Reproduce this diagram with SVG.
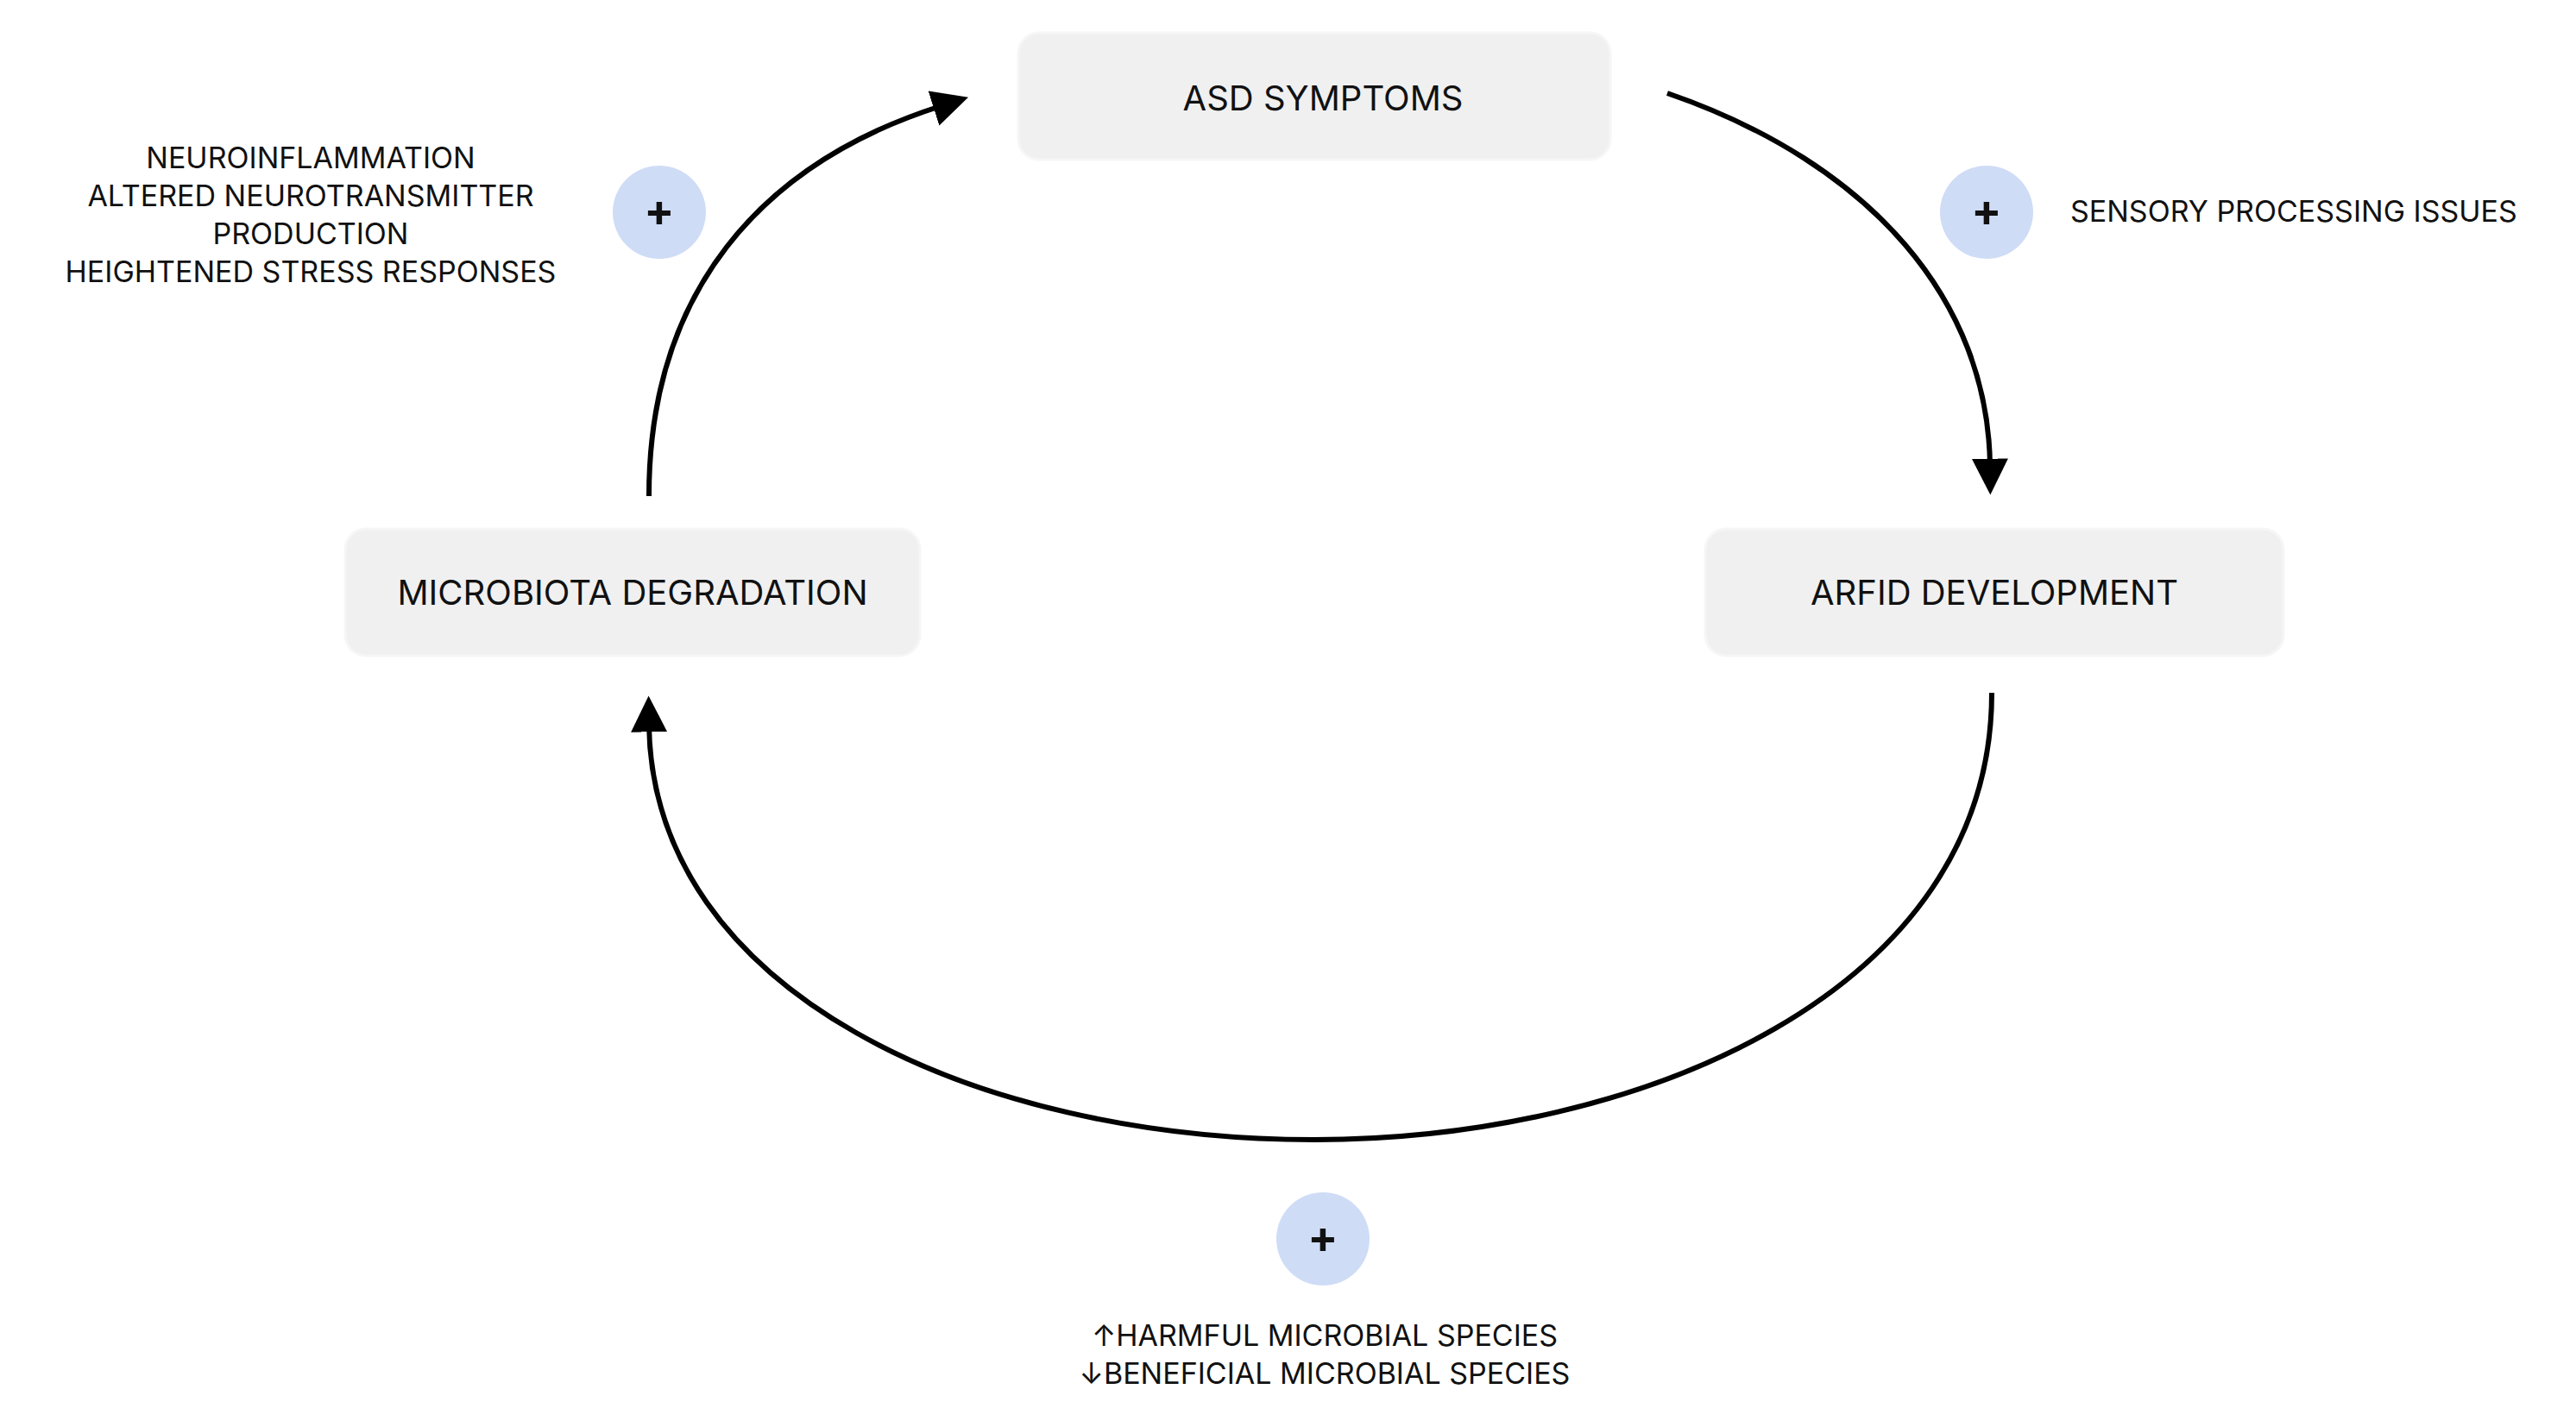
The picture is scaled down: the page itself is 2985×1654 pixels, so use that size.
<svg xmlns="http://www.w3.org/2000/svg" width="2985" height="1654" viewBox="0 0 2985 1654">
<defs>
<style>
.box{fill:#f0f0f0;stroke:#f6f6f6;stroke-width:3}
.t{font-family:Inter,"Liberation Sans",sans-serif;fill:#111;text-anchor:middle}
.node{font-size:40px}
.lab{font-size:34px}
.pl{fill:#cfdcf6}
.c{fill:none;stroke:#000;stroke-width:6}
</style>
<marker id="ah" viewBox="0 0 10 10" refX="2" refY="5" markerWidth="7" markerHeight="7" markerUnits="strokeWidth" orient="auto"><path d="M0,0 L10,5 L0,10 z" fill="#000"/></marker>
</defs>
<rect width="2985" height="1654" fill="#fff"/>
<g id="asd"><rect class="box" x="1180" y="38" width="686" height="147" rx="24"/><text class="t node" x="1533" y="128">ASD SYMPTOMS</text></g>
<g id="micro"><rect class="box" x="400" y="613" width="666" height="147" rx="24"/><text class="t node" x="733" y="701">MICROBIOTA DEGRADATION</text></g>
<g id="arfid"><rect class="box" x="1976" y="613" width="670" height="147" rx="24"/><text class="t node" x="2311" y="701">ARFID DEVELOPMENT</text></g>
<g id="connectors">
<path class="c" d="M752,575 C752,340 880,190 1090,123" marker-end="url(#ah)"/>
<path class="c" d="M1932,108 C2170,190 2304,350 2306,540" marker-end="url(#ah)"/>
<path class="c" d="M2308,803 C2308,1150 1900,1321 1523,1321 C1130,1321 756,1150 752,840" marker-end="url(#ah)"/>
</g>
<g id="plus1"><ellipse class="pl" cx="764" cy="246" rx="54" ry="54"/><text class="t" x="764" y="262" font-size="52" font-weight="bold">+</text></g>
<g id="plus2"><ellipse class="pl" cx="2302" cy="246" rx="54" ry="54"/><text class="t" x="2302" y="262" font-size="52" font-weight="bold">+</text></g>
<g id="plus3"><ellipse class="pl" cx="1533" cy="1436" rx="54" ry="54"/><text class="t" x="1533" y="1452" font-size="52" font-weight="bold">+</text></g>
<g id="label1" class="t lab">
<text x="360" y="195">NEUROINFLAMMATION</text>
<text x="360" y="239">ALTERED NEUROTRANSMITTER</text>
<text x="360" y="283">PRODUCTION</text>
<text x="360" y="327">HEIGHTENED STRESS RESPONSES</text>
</g>
<g id="label2"><text class="t lab" x="2399" y="257" text-anchor="start" style="text-anchor:start">SENSORY PROCESSING ISSUES</text></g>
<g id="label3" class="t lab">
<text x="1535" y="1560">↑HARMFUL MICROBIAL SPECIES</text>
<text x="1535" y="1604">↓BENEFICIAL MICROBIAL SPECIES</text>
</g>
</svg>
